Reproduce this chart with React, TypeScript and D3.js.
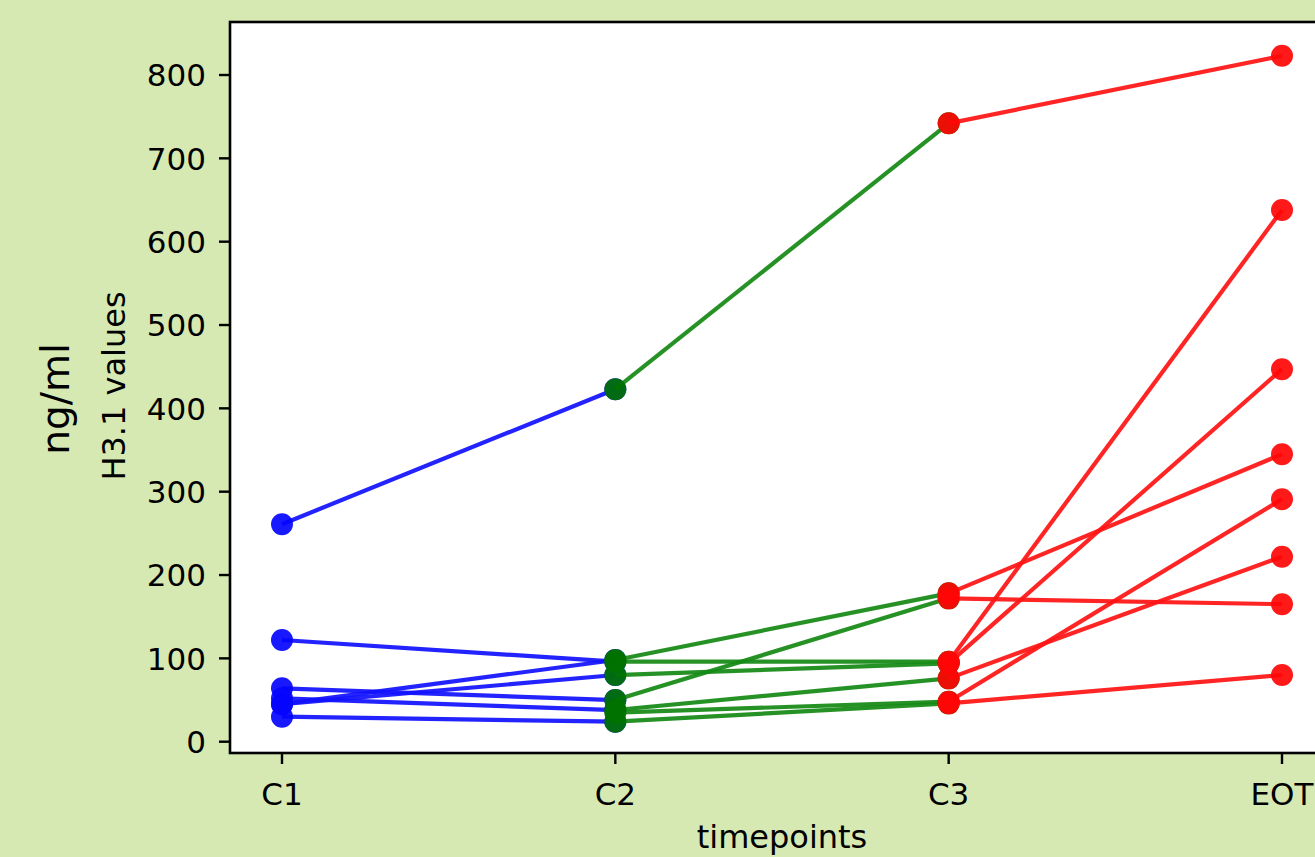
import React from 'react';
import * as d3 from 'd3';

// timepoints on the x axis
const timepoints = ['C1', 'C2', 'C3', 'EOT'];

// one entry per patient (null = not measured)
const c1Values = [261, 122, 45, 45, 64, 52, null, 30];
const c2Values = [423, 96, 98, 80, 50, 38, 35, 24];
const c3Values = [742, 96, 178, 94, 172, 76, 48, 46];
const eotValues = [823, 638, 345, 447, 165, 222, 291, 80];

const yTicks = [0, 100, 200, 300, 400, 500, 600, 700, 800];

const W = 1315;
const H = 857;
const frame = { left: 230, top: 22, right: 1332, bottom: 753 };

const App = () => {
  const x = d3.scalePoint<string>().domain(timepoints).range([282, 1282]);
  const y = d3.scaleLinear().domain([0, 800]).range([741.7, 75]);

  const columns = [c1Values, c2Values, c3Values, eotValues];

  // segment groups: from column i to i+1
  const groups = [
    { line: '#1212ff', dot: '#0505ff' },
    { line: '#158a15', dot: '#007200' },
    { line: '#ff1414', dot: '#ff0505' },
  ];

  const line = d3
    .line<[string, number]>()
    .x((d) => x(d[0]) as number)
    .y((d) => y(d[1]));

  const font = 'DejaVu Sans, sans-serif';

  return (
    <div style={{ position: 'fixed', left: 0, top: 0 }}>
      <svg width={W} height={H} style={{ display: 'block' }}>
        <rect x={0} y={0} width={W} height={H} fill="#d6e9b2" />
        <rect
          x={frame.left}
          y={frame.top}
          width={frame.right - frame.left}
          height={frame.bottom - frame.top}
          fill="#ffffff"
        />

        {groups.map((g, gi) => {
          const from = columns[gi];
          const to = columns[gi + 1];
          return (
            <g key={gi}>
              {from.map((v, i) => {
                const w = to[i];
                if (v == null || w == null) return null;
                return (
                  <path
                    key={'l' + i}
                    d={line([
                      [timepoints[gi], v],
                      [timepoints[gi + 1], w],
                    ]) as string}
                    fill="none"
                    stroke={g.line}
                    strokeWidth={4.2}
                    strokeOpacity={0.93}
                  />
                );
              })}
              {from.map((v, i) => {
                const w = to[i];
                if (v == null || w == null) return null;
                return (
                  <g key={'m' + i}>
                    <circle cx={x(timepoints[gi])} cy={y(v)} r={11} fill={g.dot} fillOpacity={0.92} />
                    <circle cx={x(timepoints[gi + 1])} cy={y(w)} r={11} fill={g.dot} fillOpacity={0.92} />
                  </g>
                );
              })}
            </g>
          );
        })}

        {/* spines */}
        <rect
          x={frame.left}
          y={frame.top}
          width={frame.right - frame.left}
          height={frame.bottom - frame.top}
          fill="none"
          stroke="#000"
          strokeWidth={2.6}
        />

        {/* y axis */}
        {yTicks.map((t) => (
          <g key={t} transform={`translate(${frame.left},${y(t)})`}>
            <line x1={-11} x2={0} stroke="#000" strokeWidth={2.4} />
            <text x={-24} dy="0.36em" textAnchor="end" fontFamily={font} fontSize={31} fill="#000">
              {t}
            </text>
          </g>
        ))}

        {/* x axis */}
        {timepoints.map((t) => (
          <g key={t} transform={`translate(${x(t)},${frame.bottom})`}>
            <line y1={0} y2={11} stroke="#000" strokeWidth={2.4} />
            <text y={52} textAnchor="middle" fontFamily={font} fontSize={31} fill="#000">
              {t}
            </text>
          </g>
        ))}

        <text x={782} y={848} textAnchor="middle" fontFamily={font} fontSize={32} fill="#000">
          timepoints
        </text>
        <text
          transform="translate(125,386) rotate(-90)"
          textAnchor="middle"
          fontFamily={font}
          fontSize={32}
          fill="#000"
        >
          H3.1 values
        </text>
        <text
          transform="translate(69,399) rotate(-90)"
          textAnchor="middle"
          fontFamily={font}
          fontSize={39}
          fill="#000"
        >
          ng/ml
        </text>
      </svg>
    </div>
  );
};

export default App;
